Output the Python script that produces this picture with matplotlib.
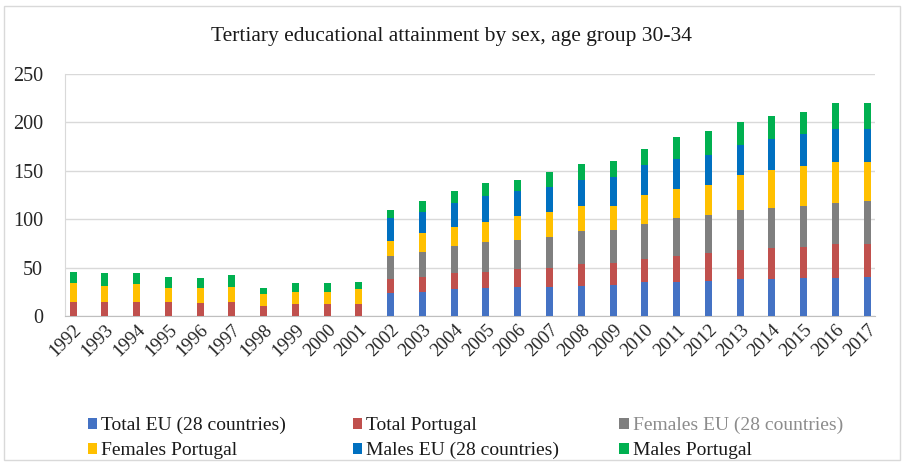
import matplotlib
matplotlib.use("Agg")
import matplotlib.pyplot as plt
import matplotlib.patches as mpatches
import numpy as np

plt.rcParams['font.family'] = ['Liberation Serif', 'DejaVu Serif']

years = [str(y) for y in range(1992, 2018)]

# values (0 = no EU data before 2002)
total_eu = [0, 0, 0, 0, 0, 0, 0, 0, 0, 0,
            24.0, 24.7, 27.8, 29.2, 30.2, 30.2, 30.9, 31.9,
            34.7, 34.7, 36.4, 37.8, 38.1, 39.5, 39.5, 40.5]
total_pt = [14.8, 14.8, 14.8, 14.1, 13.1, 14.1, 10.7, 12.4, 12.4, 12.4,
            13.8, 15.1, 16.1, 16.5, 18.2, 19.6, 22.7, 23.1,
            23.7, 27.2, 28.2, 30.2, 31.7, 32.0, 34.7, 33.7]
females_eu = [0, 0, 0, 0, 0, 0, 0, 0, 0, 0,
              24.1, 26.5, 28.3, 30.6, 30.0, 32.0, 34.0, 34.3,
              37.1, 39.5, 39.5, 41.3, 41.9, 41.9, 43.0, 44.7]
females_pt = [18.9, 16.1, 17.8, 14.4, 15.4, 16.1, 12.0, 12.0, 12.0, 15.4,
              15.4, 19.6, 19.9, 21.0, 24.7, 25.1, 25.9, 24.4,
              29.2, 29.5, 31.0, 36.1, 38.8, 41.2, 41.9, 40.2]
males_eu = [0, 0, 0, 0, 0, 0, 0, 0, 0, 0,
            24.1, 21.7, 25.1, 26.4, 25.8, 26.4, 27.4, 29.9,
            31.0, 31.6, 31.6, 31.6, 32.7, 33.7, 33.7, 33.7]
males_pt = [12.0, 13.1, 12.1, 12.0, 10.3, 12.1, 6.2, 9.3, 9.3, 6.9,
            7.9, 11.3, 12.0, 13.8, 11.8, 15.4, 16.5, 16.5,
            17.1, 22.4, 24.0, 23.3, 23.3, 22.4, 27.5, 27.1]

series = [
    ("Total EU (28 countries)", total_eu, "#4472C4"),
    ("Total Portugal", total_pt, "#C0504D"),
    ("Females EU (28 countries)", females_eu, "#7F7F7F"),
    ("Females Portugal", females_pt, "#FFC000"),
    ("Males EU (28 countries)", males_eu, "#0070C0"),
    ("Males Portugal", males_pt, "#00B050"),
]

fig = plt.figure(figsize=(9.04, 4.62), dpi=100)
ax = fig.add_axes([0.072, 0.316, 0.896, 0.524])

x = np.arange(len(years))
bottom = np.zeros(len(years))
handles = []
for name, vals, col in series:
    v = np.array(vals)
    b = ax.bar(x, v, 0.22, bottom=bottom, color=col, label=name, zorder=3)
    handles.append(b)
    bottom += v

ax.set_xlim(-0.25, len(years) - 0.75)
ax.set_ylim(0, 250)
ax.set_yticks(range(0, 251, 50))
ax.set_xticks(x)
ax.set_xticklabels(years, rotation=45, ha='right', rotation_mode='anchor')
ax.tick_params(axis='y', length=0, labelsize=14.5, colors='#262626', pad=16)
ax.tick_params(axis='x', length=0, labelsize=13.5, colors='#262626', pad=4)
ax.grid(axis='y', color='#D9D9D9', linewidth=1, zorder=0)
for s in ['top', 'right']:
    ax.spines[s].set_visible(False)
ax.spines['left'].set_color('#D9D9D9')
ax.spines['bottom'].set_color('#BFBFBF')

fig.text(0.5, 0.922, "Tertiary educational attainment by sex, age group 30-34",
         ha='center', va='center', fontsize=15.5, color='#1a1a1a')

# legend laid out as in the original: three columns, two rows
cols_x = [0.097, 0.39, 0.685]
order = [(0, 3), (1, 4), (2, 5)]
for cx, (i, j) in zip(cols_x, order):
    leg = fig.legend([handles[i], handles[j]], [series[i][0], series[j][0]],
                     loc='upper left', bbox_to_anchor=(cx, 0.097), frameon=False,
                     fontsize=14, handlelength=0.5, handleheight=0.5,
                     handletextpad=0.2, labelspacing=0.4, borderaxespad=0,
                     borderpad=0)
    for t in leg.get_texts():
        t.set_color('#1a1a1a')
        if t.get_text() == "Females EU (28 countries)":
            t.set_color('#8C8C8C')

fig.patches.append(mpatches.Rectangle((0.004, 0.004), 0.992, 0.984, transform=fig.transFigure,
                                      fill=False, edgecolor='#D9D9D9', linewidth=1))

fig.savefig("out.png", dpi=100)
